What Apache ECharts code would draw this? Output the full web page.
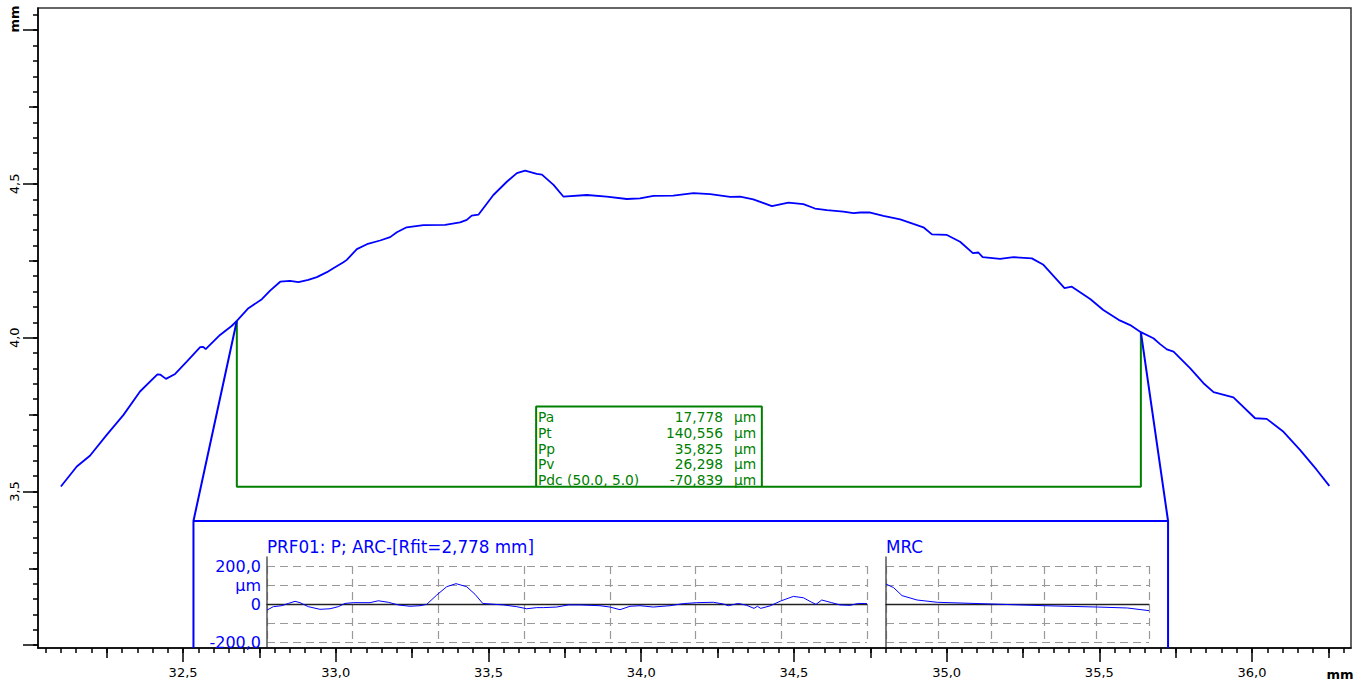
<!DOCTYPE html>
<html>
<head>
<meta charset="utf-8">
<script src="https://cdn.jsdelivr.net/npm/echarts@6/dist/echarts.min.js"></script>
<style>html,body{margin:0;padding:0;background:#fff}#c{width:1367px;height:684px}</style>
</head>
<body>
<div id="c"></div>
<script>
// ---------- main profile (mm) ----------
const profileX = [32.100,32.152,32.195,32.250,32.305,32.359,32.416,32.425,32.444,32.474,
  32.512,32.556,32.566,32.574,32.621,32.659,32.676,32.714,32.758,32.785,
  32.818,32.850,32.878,32.910,32.938,32.971,32.992,33.025,33.036,33.069,
  33.102,33.145,33.178,33.200,33.232,33.287,33.358,33.407,33.429,33.445,
  33.467,33.516,33.560,33.593,33.620,33.658,33.675,33.713,33.745,33.822,
  33.887,33.953,33.996,34.040,34.105,34.171,34.226,34.291,34.324,34.367,
  34.428,34.482,34.531,34.569,34.608,34.662,34.695,34.717,34.750,34.793,
  34.848,34.891,34.924,34.952,35.001,35.044,35.086,35.104,35.118,35.175,
  35.219,35.279,35.317,35.386,35.410,35.470,35.513,35.563,35.601,35.636,
  35.677,35.699,35.721,35.743,35.797,35.841,35.874,35.939,36.010,36.048,
  36.103,36.157,36.212,36.253];
const profileY = [3.516,3.581,3.616,3.684,3.749,3.825,3.881,3.880,3.866,3.882,
  3.922,3.969,3.970,3.963,4.009,4.038,4.055,4.096,4.125,4.153,
  4.182,4.185,4.181,4.188,4.197,4.213,4.226,4.245,4.253,4.288,
  4.304,4.316,4.327,4.343,4.359,4.366,4.367,4.375,4.383,4.397,
  4.400,4.464,4.507,4.535,4.543,4.533,4.530,4.497,4.459,4.464,
  4.459,4.451,4.453,4.461,4.462,4.470,4.467,4.458,4.459,4.450,
  4.428,4.439,4.434,4.420,4.415,4.410,4.405,4.407,4.407,4.396,
  4.385,4.370,4.359,4.336,4.334,4.312,4.275,4.277,4.262,4.256,
  4.262,4.258,4.237,4.161,4.166,4.126,4.090,4.058,4.041,4.018,
  3.998,3.979,3.962,3.955,3.901,3.852,3.823,3.806,3.738,3.736,
  3.694,3.635,3.570,3.518];

// evaluation bracket and zoom window (mm)
const bracketX = [32.676, 35.636];
const bracketTopY = [4.055, 4.018];
const bracketBaseY = 3.515;
const zoomBoxX = [32.534, 35.725];
const zoomBoxTopY = 3.404;
const statsBoxX = [33.656, 34.395];
const statsBoxY = [3.515, 3.776];

// parameter table
const statNames = ['Pa', 'Pt', 'Pp', 'Pv', 'Pdc (50.0, 5.0)'];
const statValues = ['17,778', '140,556', '35,825', '26,298', '-70,839'];
const statUnit = 'µm';

// ---------- inset profile (µm) ----------
const insetX = [0,0.074,0.171,0.249,0.327,0.385,0.482,0.618,0.735,0.832,
  0.910,1.007,1.202,1.299,1.415,1.532,1.668,1.785,1.863,1.980,
  2.097,2.205,2.330,2.427,2.517,2.602,2.757,2.913,3.030,3.147,
  3.224,3.380,3.515,3.652,3.885,4.002,4.118,4.235,4.352,4.507,
  4.702,4.857,5.013,5.207,5.324,5.382,5.499,5.597,5.682,5.721,
  5.760,5.869,5.994,6.141,6.257,6.355,6.405,6.472,6.588,6.685,
  6.802,6.899,7.0];
const insetY = [-32,-14,-9,3,14,7,-14,-28,-25,-14,
  3,7,7,17,9,-5,-12,-9,-2,47,
  91,107,91,51,3,0,-5,-14,-25,-19,
  -19,-16,-5,-5,-9,-16,-30,-12,-9,-16,
  -9,2,7,9,0,-9,3,-7,-23,-12,
  -23,-10,16,40,33,9,-2,21,7,-5,
  -7,3,2];

// ---------- MRC (material ratio %, µm) ----------
const mrcX = [0,2.9,6.1,11.8,19.5,40.3,60.2,80.4,91.8,100];
const mrcY = [105,86,44,21,9,0,-9,-16,-21,-35];

// ---------- tick labels ----------
const xMajorTicks = [32.5,33.0,33.5,34.0,34.5,35.0,35.5,36.0];
const xMidTicks = [32.25,32.75,33.25,33.75,34.25,34.75,35.25,35.75,36.25];
const yMajorTicks = [3.0,3.5,4.0,4.5,5.0];
const yLabelTicks = [3.5,4.0,4.5];
const yMidTicks = [3.25,3.75,4.25,4.75];
const insetYTicks = [-200,-100,0,100,200];
const insetYLabels = ['-200,0','','0','µm','200,0'];
const titleProfile = 'PRF01: P; ARC-[Rfit=2,778 mm]';
const titleMRC = 'MRC';
const axisUnit = 'mm';

function steps(a, b, s) {
  const out = []; const n = Math.round((b - a) / s);
  for (let i = 0; i <= n; i++) out.push(+(a + i * s).toFixed(3));
  return out;
}
const xMinorTicks = steps(32.05, 36.30, 0.05);
const yMinorTicks = steps(3.0, 5.05, 0.05);

const XMIN = 32.025, XMAX = 36.324, YMIN = 2.991, YMAX = 5.072;
const FONT = 'DejaVu Sans';
const BLUE = '#0000ff';
const GREEN = '#008000';
const zip = (a, b) => a.map((v, i) => [v, b[i]]);
const fmt = v => v.toFixed(1).replace('.', ',');

function tickAxis(kind, grid, ticks, len, extra) {
  const isX = kind === 'x';
  return Object.assign({
    gridIndex: grid, type: 'value',
    min: isX ? XMIN : YMIN, max: isX ? XMAX : YMAX,
    position: isX ? 'bottom' : 'left',
    axisLine: {show: false, onZero: false},
    axisTick: {show: true, customValues: ticks, length: len, lineStyle: {color: '#000', width: 1.5}},
    axisLabel: {show: false},
    splitLine: {show: false}
  }, extra || {});
}

const dash = {show: true, lineStyle: {color: '#999', width: 1.2, type: [8, 5]}};

const option = {
  animation: false,
  grid: [
    {left: 38, right: 16, top: 8, bottom: 36, show: true, borderColor: '#333', borderWidth: 1.5},
    {left: 267, top: 566, width: 600, height: 76},
    {left: 886, top: 566, width: 263, height: 76},
    {left: 267, top: 557, width: 1, bottom: 36},
    {left: 886, top: 557, width: 1, bottom: 36}
  ],
  xAxis: [
    tickAxis('x', 0, xMajorTicks, 14, {
      axisLine: {show: true, onZero: false, lineStyle: {color: '#000', width: 1.5}},
      axisLabel: {show: true, customValues: xMajorTicks, formatter: fmt, margin: 18,
        fontSize: 13, fontFamily: FONT, color: '#000'}
    }),
    tickAxis('x', 0, xMidTicks, 10),
    tickAxis('x', 0, xMinorTicks, 5),
    {gridIndex: 1, type: 'value', min: 0, max: 7, interval: 1,
      axisLine: {show: true, onZero: true, lineStyle: {color: '#222', width: 1.3}},
      axisTick: {show: false}, axisLabel: {show: false}, splitLine: dash},
    {gridIndex: 2, type: 'value', min: 0, max: 100, interval: 20,
      axisLine: {show: true, onZero: true, lineStyle: {color: '#222', width: 1.3}},
      axisTick: {show: false}, axisLabel: {show: false}, splitLine: dash},
    {gridIndex: 3, type: 'value', min: 0, max: 1, show: false},
    {gridIndex: 4, type: 'value', min: 0, max: 1, show: false}
  ],
  yAxis: [
    tickAxis('y', 0, yMajorTicks, 15, {
      axisLine: {show: true, onZero: false, lineStyle: {color: '#000', width: 1.5}},
      axisLabel: {show: true, customValues: yLabelTicks, formatter: fmt, rotate: 90, margin: 17,
        fontSize: 13, fontFamily: FONT, color: '#000'}
    }),
    tickAxis('y', 0, yMidTicks, 9),
    tickAxis('y', 0, yMinorTicks, 5),
    {gridIndex: 1, type: 'value', min: -200, max: 200, interval: 100,
      axisLine: {show: false}, axisTick: {show: false},
      axisLabel: {show: true, margin: 6, fontSize: 16, fontFamily: FONT, color: BLUE,
        formatter: v => { const i = insetYTicks.indexOf(v); return i >= 0 ? insetYLabels[i] : ''; }},
      splitLine: dash},
    {gridIndex: 2, type: 'value', min: -200, max: 200, interval: 100,
      axisLine: {show: false}, axisTick: {show: false}, axisLabel: {show: false}, splitLine: dash},
    {gridIndex: 3, type: 'value', min: 0, max: 1,
      axisLine: {show: true, lineStyle: {color: '#555', width: 1.5}},
      axisTick: {show: false}, axisLabel: {show: false}, splitLine: {show: false}},
    {gridIndex: 4, type: 'value', min: 0, max: 1,
      axisLine: {show: true, lineStyle: {color: '#555', width: 1.5}},
      axisTick: {show: false}, axisLabel: {show: false}, splitLine: {show: false}}
  ],
  series: [
    {name: 'profile', type: 'line', xAxisIndex: 0, yAxisIndex: 0, showSymbol: false, silent: true,
      lineStyle: {color: BLUE, width: 1.8}, data: zip(profileX, profileY)},
    {name: 'bracket', type: 'line', xAxisIndex: 0, yAxisIndex: 0, showSymbol: false, silent: true,
      lineStyle: {color: GREEN, width: 2},
      data: [[bracketX[0], bracketTopY[0]], [bracketX[0], bracketBaseY], [bracketX[1], bracketBaseY], [bracketX[1], bracketTopY[1]]]},
    {name: 'statsBox', type: 'line', xAxisIndex: 0, yAxisIndex: 0, showSymbol: false, silent: true,
      lineStyle: {color: GREEN, width: 2},
      data: [[statsBoxX[0], statsBoxY[0]], [statsBoxX[0], statsBoxY[1]], [statsBoxX[1], statsBoxY[1]], [statsBoxX[1], statsBoxY[0]]]},
    {name: 'zoomLeft', type: 'line', xAxisIndex: 0, yAxisIndex: 0, showSymbol: false, silent: true,
      lineStyle: {color: BLUE, width: 2},
      data: [[bracketX[0], bracketTopY[0]], [zoomBoxX[0], zoomBoxTopY], [zoomBoxX[0], YMIN]]},
    {name: 'zoomTop', type: 'line', xAxisIndex: 0, yAxisIndex: 0, showSymbol: false, silent: true,
      lineStyle: {color: BLUE, width: 2},
      data: [[zoomBoxX[0], zoomBoxTopY], [zoomBoxX[1], zoomBoxTopY]]},
    {name: 'zoomRight', type: 'line', xAxisIndex: 0, yAxisIndex: 0, showSymbol: false, silent: true,
      lineStyle: {color: BLUE, width: 2},
      data: [[bracketX[1], bracketTopY[1]], [zoomBoxX[1], zoomBoxTopY], [zoomBoxX[1], YMIN]]},
    {name: 'insetProfile', type: 'line', xAxisIndex: 3, yAxisIndex: 3, showSymbol: false, silent: true,
      lineStyle: {color: BLUE, width: 1}, data: zip(insetX, insetY)},
    {name: 'mrc', type: 'line', xAxisIndex: 4, yAxisIndex: 4, showSymbol: false, silent: true,
      lineStyle: {color: BLUE, width: 1}, data: zip(mrcX, mrcY)}
  ],
  graphic: []
};

const g = option.graphic;
g.push({type: 'text', x: 14, y: 19, rotation: Math.PI / 2, silent: true,
  style: {text: axisUnit, fontFamily: FONT, fontSize: 13, fontWeight: 'bold', fill: '#000', align: 'center', verticalAlign: 'middle'}});
g.push({type: 'text', x: 1340, y: 674, silent: true,
  style: {text: axisUnit, fontFamily: FONT, fontSize: 13, fontWeight: 'bold', fill: '#000', align: 'center', verticalAlign: 'middle'}});
g.push({type: 'text', x: 267, y: 547, silent: true,
  style: {text: titleProfile, fontFamily: FONT, fontSize: 16.8, fill: BLUE, align: 'left', verticalAlign: 'middle'}});
g.push({type: 'text', x: 886, y: 547, silent: true,
  style: {text: titleMRC, fontFamily: FONT, fontSize: 16.8, fill: BLUE, align: 'left', verticalAlign: 'middle'}});
statNames.forEach((n, i) => {
  const y = 416.7 + i * 15.9;
  g.push({type: 'text', x: 538, y: y, silent: true,
    style: {text: n, fontFamily: FONT, fontSize: 13.8, fill: GREEN, align: 'left', verticalAlign: 'middle'}});
  g.push({type: 'text', x: 723, y: y, silent: true,
    style: {text: statValues[i], fontFamily: FONT, fontSize: 13.8, fill: GREEN, align: 'right', verticalAlign: 'middle'}});
  g.push({type: 'text', x: 734, y: y, silent: true,
    style: {text: statUnit, fontFamily: FONT, fontSize: 13.8, fill: GREEN, align: 'left', verticalAlign: 'middle'}});
});

const chart = echarts.init(document.getElementById('c'), null, {renderer: 'svg'});
chart.setOption(option);
</script>
</body>
</html>
